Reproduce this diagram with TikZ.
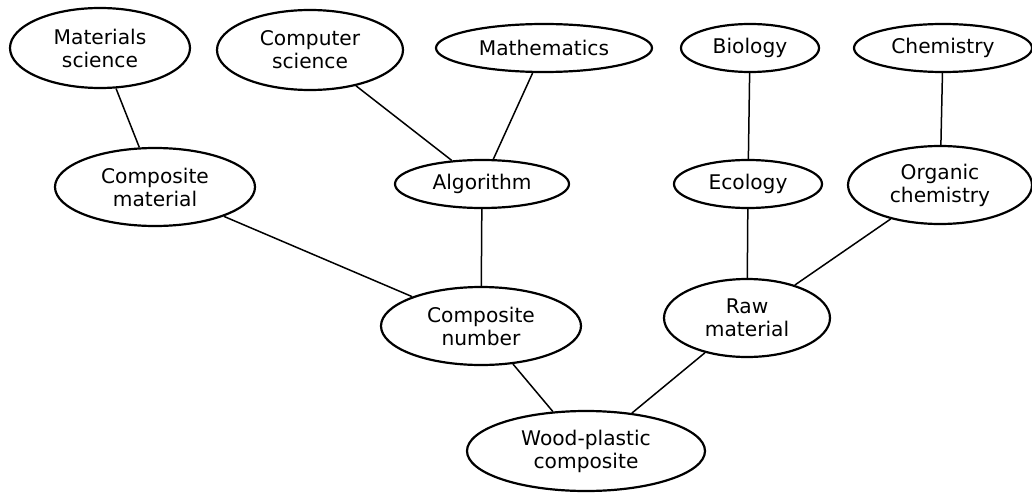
\documentclass[tikz,border=0pt]{standalone}
\usepackage{fontspec}
\setmainfont{DejaVu Sans}
\usetikzlibrary{shapes.geometric}
\tikzset{
  concept/.style={draw, ellipse, line width=2.2pt, inner sep=0pt, align=center,
    font=\fontsize{20.2}{23}\selectfont},
  link/.style={line width=1.5pt}
}
\begin{document}
\begin{tikzpicture}[x=1pt,y=-1pt]
\useasboundingbox (0,0) rectangle (1032,492);
\node[concept, minimum width=180pt, minimum height=80pt] (ms) at (100,48) {Materials\\science};
\node[concept, minimum width=186pt, minimum height=80pt] (cs) at (310,50) {Computer\\science};
\node[concept, minimum width=216pt, minimum height=48pt] (math) at (544,48) {Mathematics};
\node[concept, minimum width=138pt, minimum height=48pt] (bio) at (750,48) {Biology};
\node[concept, minimum width=178pt, minimum height=48pt] (chem) at (943,48) {Chemistry};
\node[concept, minimum width=200pt, minimum height=78pt] (cm) at (155,187) {Composite\\material};
\node[concept, minimum width=174pt, minimum height=48pt] (alg) at (482,184) {Algorithm};
\node[concept, minimum width=148pt, minimum height=48pt] (eco) at (748,184) {Ecology};
\node[concept, minimum width=184pt, minimum height=78pt] (oc) at (940,185) {Organic\\chemistry};
\node[concept, minimum width=200pt, minimum height=78pt] (cn) at (481,326) {Composite\\number};
\node[concept, minimum width=166pt, minimum height=78pt] (raw) at (747,318) {Raw\\material};
\node[concept, minimum width=238pt, minimum height=80pt] (wpc) at (586,451) {Wood-plastic\\composite};
\draw[link] (ms) -- (cm);
\draw[link] (cs) -- (alg);
\draw[link] (math) -- (alg);
\draw[link] (bio) -- (eco);
\draw[link] (chem) -- (oc);
\draw[link] (cm) -- (cn);
\draw[link] (alg) -- (cn);
\draw[link] (eco) -- (raw);
\draw[link] (oc) -- (raw);
\draw[link] (cn) -- (wpc);
\draw[link] (raw) -- (wpc);
\end{tikzpicture}
\end{document}
